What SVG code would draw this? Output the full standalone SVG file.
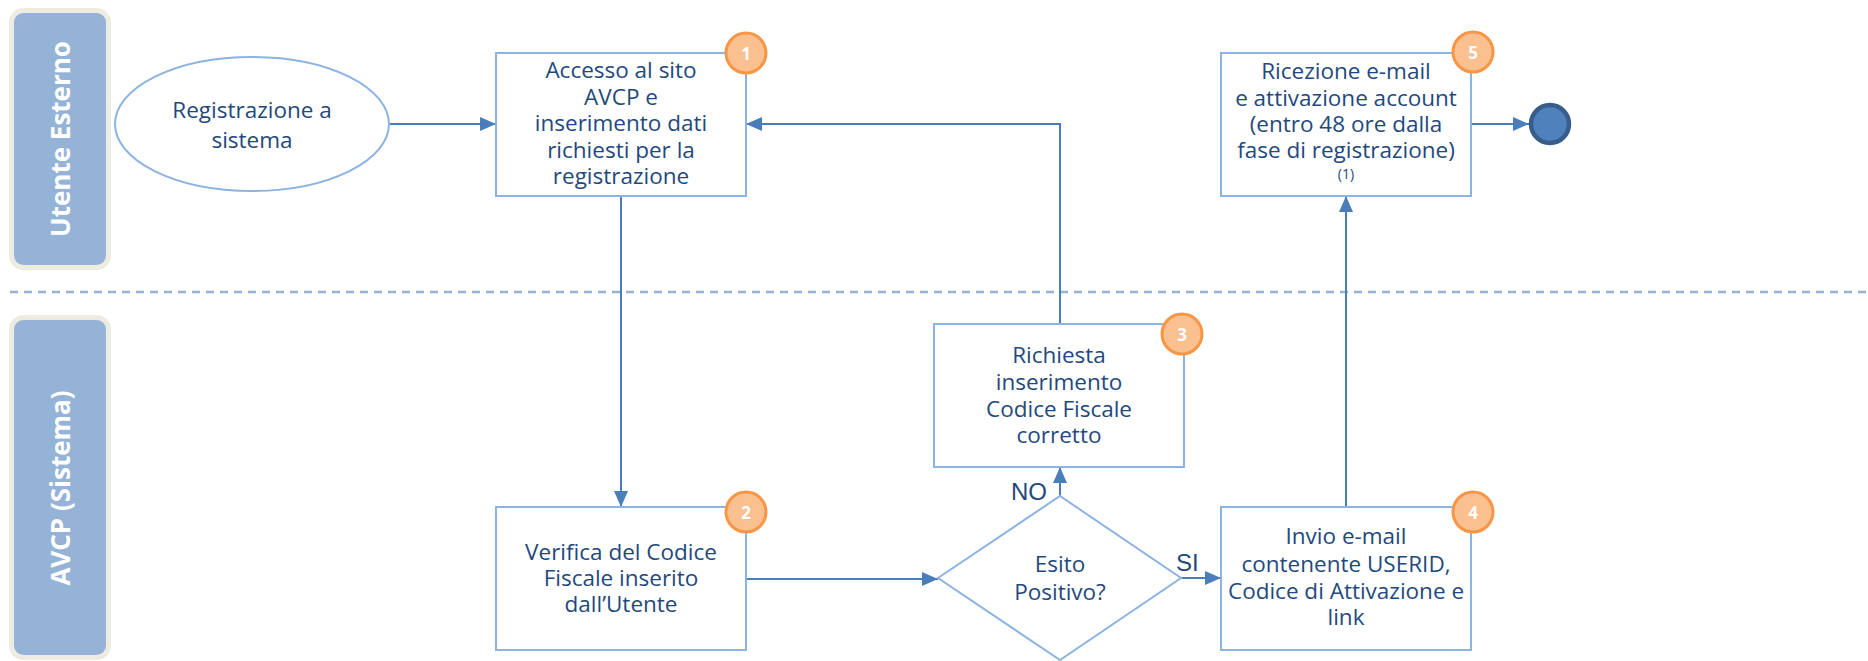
<svg xmlns="http://www.w3.org/2000/svg" width="1868" height="661" viewBox="0 0 1868 661">
<style>
.lane{fill:#95B3D7;stroke:#EEECE1;stroke-width:5}
.lanet{font-family:"Open Sans","DejaVu Sans",sans-serif;font-weight:bold;font-size:26px;fill:#FFFFFF;text-anchor:middle;dominant-baseline:central}
.box{fill:#FFFFFF;stroke:#8DB3E2;stroke-width:2}
.t{font-family:"Open Sans","DejaVu Sans",sans-serif;font-size:22.5px;fill:#1F497D;text-anchor:middle}
.small{font-size:14px}
.badge{fill:#FAC090;stroke:#F79646;stroke-width:3}
.bt{font-family:"Open Sans","DejaVu Sans",sans-serif;font-weight:bold;font-size:17px;fill:#FFFFFF;text-anchor:middle;dominant-baseline:central}
.conn{fill:none;stroke:#4A7EBB;stroke-width:2;marker-end:url(#arr)}
.lbl{font-family:"Liberation Sans",Arial,sans-serif;font-size:24px;fill:#1F497D}
</style>
<defs>
<marker id="arr" markerUnits="userSpaceOnUse" markerWidth="16" markerHeight="14" refX="16" refY="7" orient="auto">
<path d="M0,0 L16,7 L0,14 z" fill="#4A7EBB"/>
</marker>
</defs>
<rect width="1868" height="661" fill="#FFFFFF"/>
<g id="lane-utente">
<rect class="lane" x="11.5" y="10.5" width="97" height="257" rx="12"/>
<text class="lanet" transform="translate(60,139) rotate(-90)">Utente Esterno</text>
</g>
<g id="lane-avcp">
<rect class="lane" x="11.5" y="317.5" width="97" height="340" rx="12"/>
<text class="lanet" transform="translate(60,488) rotate(-90)">AVCP (Sistema)</text>
</g>
<line id="lane-divider" x1="10" y1="292" x2="1868" y2="292" stroke="#95B3D7" stroke-width="2.5" stroke-dasharray="8 6"/>
<g id="connectors">
<path class="conn" d="M389,124 H496"/>
<path class="conn" d="M621,196 V507"/>
<path class="conn" d="M746,579 H938"/>
<path class="conn" d="M1060,496 V467"/>
<path class="conn" d="M1060,324 V124 H746"/>
<path class="conn" d="M1181,578 H1221"/>
<path class="conn" d="M1346,507 V196"/>
<path class="conn" d="M1471,124 H1529"/>
<text class="lbl" x="1011" y="500">NO</text>
<text class="lbl" x="1176" y="571">SI</text>
</g>
<g id="start">
<ellipse class="box" cx="252" cy="124" rx="137" ry="67"/>
<text class="t" x="252" y="118">Registrazione a</text>
<text class="t" x="252" y="148">sistema</text>
</g>
<g id="step1">
<rect class="box" x="496" y="53" width="250" height="143"/>
<text class="t" x="621" y="78">Accesso al sito</text>
<text class="t" x="621" y="105">AVCP e</text>
<text class="t" x="621" y="131">inserimento dati</text>
<text class="t" x="621" y="158">richiesti per la</text>
<text class="t" x="621" y="184">registrazione</text>
<circle class="badge" cx="746" cy="53" r="20"/>
<text class="bt" x="746" y="53">1</text>
</g>
<g id="step2">
<rect class="box" x="496" y="507" width="250" height="143"/>
<text class="t" x="621" y="560">Verifica del Codice</text>
<text class="t" x="621" y="586">Fiscale inserito</text>
<text class="t" x="621" y="612">dall’Utente</text>
<circle class="badge" cx="746" cy="512" r="20"/>
<text class="bt" x="746" y="512">2</text>
</g>
<g id="decision">
<path class="box" d="M938,578 L1060,496 L1181,578 L1060,660 Z"/>
<text class="t" x="1060" y="572">Esito</text>
<text class="t" x="1060" y="600">Positivo?</text>
</g>
<g id="step3">
<rect class="box" x="934" y="324" width="250" height="143"/>
<text class="t" x="1059" y="363">Richiesta</text>
<text class="t" x="1059" y="390">inserimento</text>
<text class="t" x="1059" y="417">Codice Fiscale</text>
<text class="t" x="1059" y="443">corretto</text>
<circle class="badge" cx="1182" cy="334" r="20"/>
<text class="bt" x="1182" y="334">3</text>
</g>
<g id="step4">
<rect class="box" x="1221" y="507" width="250" height="143"/>
<text class="t" x="1346" y="544">Invio e-mail</text>
<text class="t" x="1346" y="572">contenente USERID,</text>
<text class="t" x="1346" y="599">Codice di Attivazione e</text>
<text class="t" x="1346" y="625">link</text>
<circle class="badge" cx="1473" cy="512" r="20"/>
<text class="bt" x="1473" y="512">4</text>
</g>
<g id="step5">
<rect class="box" x="1221" y="53" width="250" height="143"/>
<text class="t" x="1346" y="79">Ricezione e-mail</text>
<text class="t" x="1346" y="106">e attivazione account</text>
<text class="t" x="1346" y="132">(entro 48 ore dalla</text>
<text class="t" x="1346" y="158">fase di registrazione)</text>
<text class="t small" x="1346" y="179">(1)</text>
<circle class="badge" cx="1473" cy="52" r="20"/>
<text class="bt" x="1473" y="52">5</text>
</g>
<g id="end">
<circle cx="1550" cy="124" r="19" fill="#4F81BD" stroke="#385D8A" stroke-width="4.5"/>
</g>
</svg>
